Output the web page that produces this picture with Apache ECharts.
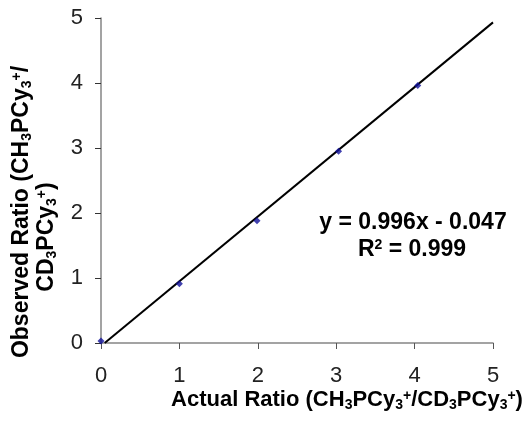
<!DOCTYPE html>
<html>
<head>
<meta charset="utf-8">
<script src="https://cdn.jsdelivr.net/npm/echarts@6/dist/echarts.min.js"></script>
<style>html,body{margin:0;padding:0;background:#fff}#c{width:526px;height:422px}</style>
</head>
<body>
<div id="c"></div>
<script>
// Data
var actualRatio = [0.0, 1.0, 1.99, 3.03, 4.04];
var observedRatio = [0.03, 0.91, 1.88, 2.95, 3.96];
var trendX = [0.047, 5.0];
var trendY = [0.0, 4.933];
var xTicks = [0, 1, 2, 3, 4, 5];
var yTicks = [0, 1, 2, 3, 4, 5];
var equationText = 'y = 0.996x - 0.047';
var r2Value = '0.999';

var FONT = 'Liberation Sans, Arial, sans-serif';
var chart = echarts.init(document.getElementById('c'), null, {renderer: 'canvas'});

var richBase = function (size) {
  var s = Math.round(size * 0.62);
  return {
    m: {fontSize: size, fontWeight: 'bold', fontFamily: FONT, color: '#000', lineHeight: size + 2, verticalAlign: 'middle'},
    sub: {fontSize: s, fontWeight: 'bold', fontFamily: FONT, color: '#000', lineHeight: s, verticalAlign: 'bottom'},
    sup: {fontSize: s, fontWeight: 'bold', fontFamily: FONT, color: '#000', lineHeight: s, verticalAlign: 'top', padding: [1, 0, 0, 0]}
  };
};

var option = {
  backgroundColor: '#fff',
  animation: false,
  grid: {left: 101, right: 33, top: 18, bottom: 79, containLabel: false},
  xAxis: {
    type: 'value', min: xTicks[0], max: xTicks[xTicks.length - 1], interval: 1,
    axisLine: {lineStyle: {color: '#858585', width: 1.5}},
    axisTick: {show: true, length: 6, lineStyle: {color: '#555'}},
    axisLabel: {margin: 22, fontSize: 22, fontFamily: FONT, color: '#222'},
    splitLine: {show: false}
  },
  yAxis: {
    type: 'value', min: yTicks[0], max: yTicks[yTicks.length - 1], interval: 1,
    axisLine: {show: true, lineStyle: {color: '#858585', width: 1.5}},
    axisTick: {show: true, length: 6, lineStyle: {color: '#333'}},
    axisLabel: {margin: 18, fontSize: 22, fontFamily: FONT, color: '#222'},
    splitLine: {show: false}
  },
  series: [
    {
      type: 'line',
      data: trendX.map(function (x, i) { return [x, trendY[i]]; }),
      symbol: 'none',
      lineStyle: {color: '#000', width: 2},
      z: 2
    },
    {
      type: 'scatter',
      data: actualRatio.map(function (x, i) { return [x, observedRatio[i]]; }),
      symbol: 'diamond',
      symbolSize: 7,
      itemStyle: {color: '#10109a'},
      z: 3
    }
  ],
  graphic: [
    {
      type: 'text', x: 347, y: 400,
      style: {
        x: 0, y: 0, align: 'center', verticalAlign: 'middle',
        text: '{m|Actual Ratio (CH}{sub|3}{m|PCy}{sub|3}{sup|+}{m|/CD}{sub|3}{m|PCy}{sub|3}{sup|+}{m|)}',
        rich: richBase(22)
      }
    },
    {
      type: 'text', x: 22, y: 212, rotation: Math.PI / 2,
      style: {
        x: 0, y: 0, align: 'center', verticalAlign: 'middle',
        text: '{m|Observed Ratio (CH}{sub|3}{m|PCy}{sub|3}{sup|+}{m|/}',
        rich: richBase(23)
      }
    },
    {
      type: 'text', x: 47, y: 237, rotation: Math.PI / 2,
      style: {
        x: 0, y: 0, align: 'center', verticalAlign: 'middle',
        text: '{m|CD}{sub|3}{m|PCy}{sub|3}{sup|+}{m|)}',
        rich: richBase(23)
      }
    },
    {
      type: 'text', x: 413, y: 223,
      style: {
        x: 0, y: 0, align: 'center', verticalAlign: 'middle',
        text: '{m|' + equationText + '}',
        rich: richBase(23)
      }
    },
    {
      type: 'text', x: 412, y: 250,
      style: {
        x: 0, y: 0, align: 'center', verticalAlign: 'middle',
        text: '{m|R}{sup|2}{m| = ' + r2Value + '}',
        rich: richBase(23)
      }
    }
  ]
};
chart.setOption(option);
</script>
</body>
</html>
